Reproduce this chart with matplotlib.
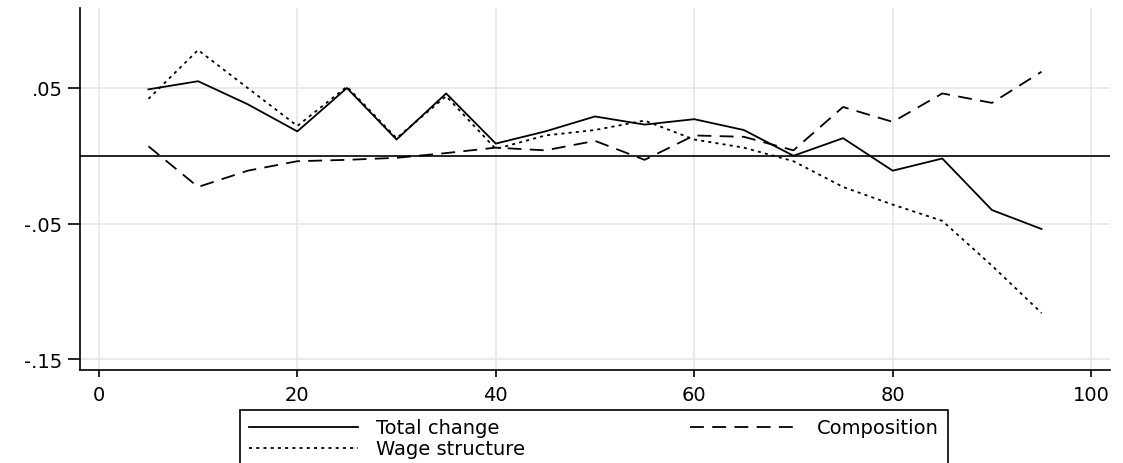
import matplotlib
matplotlib.use("Agg")
import matplotlib.pyplot as plt

plt.rcParams["font.family"] = ["DejaVu Sans"]
plt.rcParams["lines.scale_dashes"] = False

# percentiles
pct = [5, 10, 15, 20, 25, 30, 35, 40, 45, 50, 55, 60, 65, 70, 75, 80, 85, 90, 95]

total = [0.049, 0.055, 0.038, 0.018, 0.050, 0.012, 0.046, 0.009, 0.018, 0.029,
         0.023, 0.027, 0.019, 0.000, 0.013, -0.011, -0.002, -0.040, -0.054]
composition = [0.007, -0.023, -0.011, -0.004, -0.003, -0.0015, 0.002, 0.006, 0.004, 0.011,
               -0.003, 0.015, 0.014, 0.004, 0.036, 0.025, 0.046, 0.039, 0.062]
wage = [0.042, 0.078, 0.050, 0.022, 0.051, 0.013, 0.044, 0.005, 0.015, 0.019,
        0.026, 0.012, 0.006, -0.004, -0.023, -0.036, -0.048, -0.081, -0.116]

yticks = [-0.15, -0.05, 0.05]
ylabels = ["-.15", "-.05", ".05"]
xticks = [0, 20, 40, 60, 80, 100]

fs = 14

fig = plt.figure(figsize=(11.23, 4.64), dpi=100)
ax = fig.add_axes([80/1123, 1-371/464, 1030/1123, 362/464])

ax.axhline(0, color="black", lw=1.2, zorder=2)
l1, = ax.plot(pct, total, color="black", lw=1.3, label="Total change")
l2, = ax.plot(pct, wage, color="black", lw=1.3, dashes=(2.2, 3.0), label="Wage structure")
l3, = ax.plot(pct, composition, color="black", lw=1.3, dashes=(10, 6), label="Composition")

ax.set_xlim(-1.9, 101.9)
ax.set_ylim(-0.158, 0.109)
ax.set_xticks(xticks)
ax.set_yticks(yticks)
ax.set_yticklabels(ylabels)
ax.grid(True, color="#e6e6e6", lw=1.2, zorder=0)
ax.set_axisbelow(True)

for s in ["top", "right"]:
    ax.spines[s].set_visible(False)
for s in ["left", "bottom"]:
    ax.spines[s].set_linewidth(1.2)
ax.tick_params(axis="x", length=5, width=1.2, pad=6, labelsize=fs)
ax.tick_params(axis="y", length=8.6, width=1.2, pad=4, labelsize=fs)

leg = fig.legend(handles=[l1, l2, l3], ncol=2, loc="upper left",
                 bbox_to_anchor=(240/1123, 1-410.7/464, 708/1123, 0.0),
                 mode="expand", borderaxespad=0, fontsize=fs,
                 frameon=True, fancybox=False, edgecolor="black", framealpha=1,
                 handlelength=5.6, handletextpad=0.95, columnspacing=3.0,
                 borderpad=0.45, labelspacing=0.1)
leg.get_frame().set_linewidth(1.2)

plt.savefig("out.png", dpi=100)
